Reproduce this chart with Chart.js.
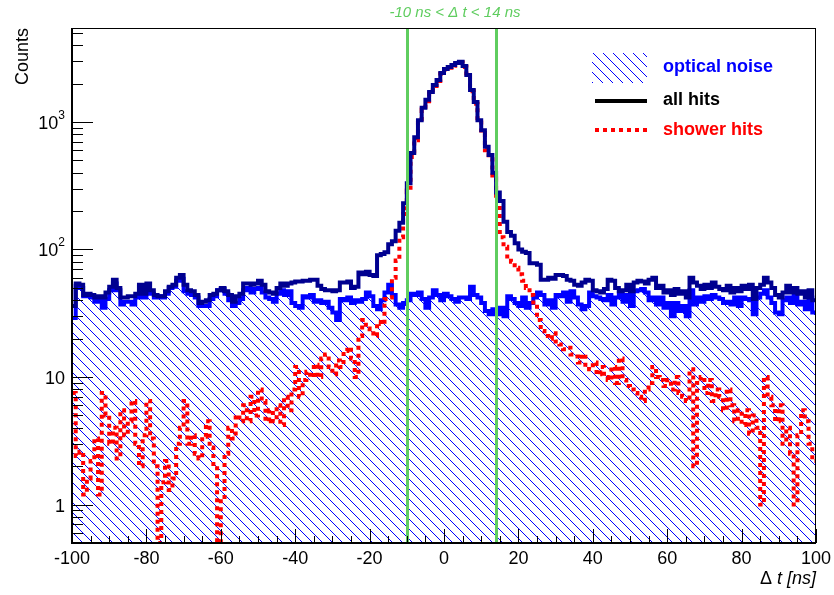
<!DOCTYPE html>
<html>
<head>
<meta charset="utf-8">
<script src="https://cdn.jsdelivr.net/npm/chart.js@4.4.1/dist/chart.umd.min.js"></script>
<style>
    html, body { margin: 0; padding: 0; background: #fff; }
</style>
</head>
<body>
<canvas id="dtChart" width="834" height="595"></canvas>
<script>
        // histogram binning: 1 ns bins from -100 to 100
        const xMin = -100;
        const xMax = 100;
        const binWidth = 1;

        // counts per bin (bin -100 .. 99)
        const noiseCounts = [
            29, 52, 50, 43, 43, 42, 39, 42, 35, 41,
            48, 54, 48, 37, 39, 39, 37, 42, 51, 42,
            48, 45, 42, 43, 42, 45, 50, 51, 57, 59,
            47, 45, 44, 42, 36, 36, 36, 41, 43, 48,
            49, 45, 40, 36, 38, 41, 48, 50, 46, 49,
            50, 46, 42, 41, 39, 45, 48, 44, 47, 38,
            36, 35, 43, 42, 44, 39, 40, 38, 39, 35,
            32, 28, 41, 40, 42, 38, 40, 39, 41, 46,
            43, 36, 34, 40, 46, 53, 44, 37, 35, 38,
            40, 45, 44, 46, 41, 35, 42, 48, 44, 40,
            45, 43, 41, 39, 42, 42, 41, 51, 44, 42,
            38, 33, 31, 34, 31, 35, 30, 43, 41, 38,
            36, 42, 35, 38, 42, 46, 44, 37, 40, 35,
            44, 43, 46, 39, 47, 42, 37, 34, 36, 46,
            43, 42, 41, 40, 44, 37, 42, 46, 39, 44,
            36, 47, 48, 49, 46, 40, 42, 37, 42, 35,
            38, 30, 38, 33, 36, 30, 48, 37, 42, 39,
            43, 41, 44, 42, 41, 38, 39, 37, 42, 36,
            42, 41, 40, 31, 42, 45, 48, 42, 38, 32,
            31, 40, 42, 38, 44, 37, 39, 34, 42, 32
        ];

        const allHits = [
            36, 54, 53, 44, 45, 44, 42, 43, 42, 46,
            51, 58, 50, 42, 42, 43, 43, 45, 53, 45,
            54, 48, 44, 43, 43, 47, 51, 53, 60, 63,
            53, 48, 47, 44, 38, 39, 40, 44, 45, 48,
            50, 47, 44, 39, 43, 45, 54, 54, 53, 54,
            57, 53, 47, 46, 45, 50, 54, 52, 54, 55,
            56, 56, 57, 57, 58, 58, 52, 49, 48, 48,
            47, 48, 55, 55, 56, 50, 51, 66, 64, 67,
            63, 62, 90, 92, 95, 110, 116, 140, 162, 230,
            330, 570, 760, 1030, 1290, 1490, 1720, 1950, 2130, 2420,
            2600, 2700, 2800, 2900, 2960, 2750, 2330, 1780, 1430, 1030,
            860, 640, 550, 400, 280, 240, 165, 137, 128, 112,
            100, 96, 94, 78, 78, 76, 58, 58, 60, 59,
            63, 63, 62, 58, 57, 53, 52, 55, 58, 57,
            48, 47, 46, 49, 58, 57, 50, 47, 48, 53,
            47, 55, 57, 56, 54, 58, 60, 50, 52, 46,
            48, 44, 49, 45, 47, 42, 60, 55, 52, 49,
            53, 50, 55, 51, 49, 48, 52, 46, 50, 47,
            52, 49, 53, 41, 50, 53, 60, 55, 50, 44,
            42, 46, 52, 46, 50, 45, 47, 42, 48, 40
        ];

        // empty bins are kept at the axis floor (0.5)
        const showerHits = [
            7.5, 2.4, 2.6, 1.2, 1.6, 2.2, 3.3, 1.2, 7.5, 5,
            3, 4, 2.3, 5.5, 3.5, 4.5, 6.5, 3, 2, 3.5,
            6.5, 3.3, 2, 0.5, 1.5, 2.2, 1.3, 1.6, 3, 4,
            6.5, 3, 3.5, 2.5, 2.3, 3.4, 4.5, 2.8, 2, 0.5,
            1.1, 2.5, 4, 3.3, 5, 4.5, 6, 4.5, 7, 5,
            8, 6.5, 4.5, 5.5, 4.5, 6, 4.2, 7, 5.5, 8,
            12, 7, 9.5, 11, 10, 12.5, 10, 14, 15, 12,
            10.5, 13.5, 12, 16, 17, 14, 10, 21, 28, 24,
            22, 21, 27, 26, 41, 42, 60, 82, 125, 190,
            290, 530, 720, 990, 1250, 1450, 1680, 1910, 2090, 2380,
            2560, 2660, 2760, 2860, 2920, 2700, 2290, 1740, 1390, 990,
            820, 600, 510, 360, 240, 125, 105, 88, 80, 72,
            64, 57, 50, 44, 37, 28, 23, 21, 20, 22,
            19, 18, 16.5, 17, 15, 14.5, 13, 15, 12, 11.5,
            13, 10.5, 12, 10, 9.5, 12, 9, 14, 9.5, 8.5,
            8, 7.5, 7, 6.5, 8, 9, 12, 10, 9.5, 8.5,
            9.5, 8, 10, 7.5, 7, 6.5, 11.5, 2, 9, 10,
            7.5, 9.5, 6.5, 8, 7, 5.5, 8, 6, 4.5, 5.5,
            4.2, 5.5, 3.6, 5, 4, 1, 10, 7, 6, 4.5,
            6, 3, 4, 2.5, 1, 3.5, 5.5, 4.5, 3, 2.2
        ];

        const xTickLabels = [-100, -80, -60, -40, -20, 0, 20, 40, 60, 80, 100];
        const yTickValues = [1, 10, 100, 1000];
        const yTickLabels = [['1', ''], ['10', ''], ['10', '2'], ['10', '3']];
        const timeWindow = [-10, 14];
        const legendLabels = ['optical noise', 'all hits', 'shower hits'];

        const FONT = '"Liberation Sans", Arial, Helvetica, sans-serif';
        const GREEN = '#5fcd5f';
        const NAVY = '#000090';

        const canvas = document.getElementById('dtChart');
        const ctx = canvas.getContext('2d');

        // ROOT style \\\ hatching
        function makeHatch(color, step) {
            const c = document.createElement('canvas');
            c.width = step;
            c.height = step;
            const g = c.getContext('2d');
            g.strokeStyle = color;
            g.lineWidth = 1;
            g.beginPath();
            g.moveTo(-1, -1); g.lineTo(step + 1, step + 1);
            g.moveTo(-1, step - 1); g.lineTo(1, step + 1);
            g.moveTo(step - 1, -1); g.lineTo(step + 1, 1);
            g.stroke();
            return ctx.createPattern(c, 'repeat');
        }
        const hatch = makeHatch('#0000ff', 10);

        // one point per bin low edge plus the closing edge
        function histPoints(counts) {
            const pts = counts.map((c, i) => ({ x: xMin + i * binWidth, y: c }));
            pts.push({ x: xMax, y: counts[counts.length - 1] });
            return pts;
        }

        const rootFrame = {
            id: 'rootFrame',
            afterDatasetsDraw(chart) {
                const { ctx, chartArea: a, scales: { x } } = chart;
                ctx.save();
                ctx.strokeStyle = GREEN;
                ctx.lineWidth = 3;
                timeWindow.forEach(t => {
                    const px = Math.round(x.getPixelForValue(t)) + 0.5;
                    ctx.beginPath();
                    ctx.moveTo(px, a.top);
                    ctx.lineTo(px, a.bottom);
                    ctx.stroke();
                });
                ctx.restore();
            },
            afterDraw(chart) {
                const { ctx, chartArea: a, scales: { x, y } } = chart;
                ctx.save();

                // frame
                ctx.strokeStyle = '#000';
                ctx.lineWidth = 1;
                ctx.strokeRect(a.left + 0.5, a.top + 0.5, a.right - a.left - 1, a.bottom - a.top);
                ctx.lineWidth = 2;
                ctx.beginPath();
                ctx.moveTo(a.left, a.top);
                ctx.lineTo(a.left, a.bottom);
                ctx.lineTo(a.right, a.bottom);
                ctx.stroke();

                // x ticks (inside)
                ctx.lineWidth = 1;
                ctx.beginPath();
                for (let t = xMin; t <= xMax; t += 5) {
                    const px = Math.round(x.getPixelForValue(t)) + 0.5;
                    const len = (t % 20 === 0) ? 14 : 7;
                    ctx.moveTo(px, a.bottom);
                    ctx.lineTo(px, a.bottom - len);
                }
                // y ticks (inside, log)
                for (let e = -1; e <= 3; e++) {
                    for (let m = 1; m <= 9; m++) {
                        const v = m * Math.pow(10, e);
                        if (v <= y.min || v >= y.max) continue;
                        const py = Math.round(y.getPixelForValue(v)) + 0.5;
                        const len = (m === 1) ? 21 : 11;
                        ctx.moveTo(a.left, py);
                        ctx.lineTo(a.left + len, py);
                    }
                }
                ctx.stroke();

                // x tick labels
                ctx.fillStyle = '#000';
                ctx.font = '18px ' + FONT;
                ctx.textAlign = 'center';
                ctx.textBaseline = 'alphabetic';
                xTickLabels.forEach(t => {
                    ctx.fillText(String(t), x.getPixelForValue(t), 564);
                });

                // y tick labels with exponent
                yTickValues.forEach((v, i) => {
                    const [base, sup] = yTickLabels[i];
                    const py = y.getPixelForValue(v);
                    ctx.font = '12px ' + FONT;
                    const ws = sup ? ctx.measureText(sup).width : 0;
                    ctx.font = '18px ' + FONT;
                    const wb = ctx.measureText(base).width;
                    const right = a.left - 7;
                    ctx.textAlign = 'left';
                    ctx.fillText(base, right - ws - wb, py + 7);
                    if (sup) {
                        ctx.font = '12px ' + FONT;
                        ctx.fillText(sup, right - ws, py - 3);
                    }
                });

                // axis titles
                ctx.font = '18px ' + FONT;
                ctx.textAlign = 'right';
                ctx.save();
                ctx.translate(28, a.top);
                ctx.rotate(-Math.PI / 2);
                ctx.fillText('Counts', 0, 0);
                ctx.restore();

                ctx.font = 'italic 18px ' + FONT;
                const tail = ' t [ns]';
                const wTail = ctx.measureText(tail).width;
                ctx.fillText(tail, a.right, 584);
                ctx.font = '18px ' + FONT;
                ctx.fillText('\u0394', a.right - wTail, 584);

                // cut title
                ctx.fillStyle = GREEN;
                ctx.font = 'italic 15px ' + FONT;
                ctx.textAlign = 'center';
                ctx.fillText('-10 ns < \u0394 t < 14 ns', 455, 17);

                // legend
                ctx.fillStyle = hatch;
                ctx.fillRect(592, 53, 55, 30);
                ctx.strokeStyle = '#000';
                ctx.lineWidth = 4;
                ctx.beginPath();
                ctx.moveTo(595, 101);
                ctx.lineTo(647, 101);
                ctx.stroke();
                ctx.strokeStyle = '#ff0000';
                ctx.setLineDash([4, 4]);
                ctx.beginPath();
                ctx.moveTo(595, 130);
                ctx.lineTo(647, 130);
                ctx.stroke();
                ctx.setLineDash([]);

                ctx.font = 'bold 18px ' + FONT;
                ctx.textAlign = 'left';
                ctx.fillStyle = '#0000ff';
                ctx.fillText(legendLabels[0], 663, 72);
                ctx.fillStyle = '#000';
                ctx.fillText(legendLabels[1], 663, 105);
                ctx.fillStyle = '#ff0000';
                ctx.fillText(legendLabels[2], 663, 135);

                ctx.restore();
            }
        };

        new Chart(ctx, {
            type: 'line',
            data: {
                datasets: [
                    {
                        label: legendLabels[0],
                        data: histPoints(noiseCounts),
                        borderColor: '#0000ff',
                        borderWidth: 4,
                        backgroundColor: hatch,
                        fill: 'start',
                        stepped: 'before',
                        pointRadius: 0,
                        order: 3
                    },
                    {
                        label: legendLabels[2],
                        data: histPoints(showerHits),
                        borderColor: '#ff0000',
                        borderWidth: 4,
                        borderDash: [4, 4],
                        fill: false,
                        stepped: 'before',
                        pointRadius: 0,
                        order: 2
                    },
                    {
                        label: legendLabels[1],
                        data: histPoints(allHits),
                        borderColor: NAVY,
                        borderWidth: 4,
                        fill: false,
                        stepped: 'before',
                        pointRadius: 0,
                        order: 1
                    }
                ]
            },
            options: {
                responsive: false,
                animation: false,
                layout: {
                    padding: { left: 72, right: 18, top: 28, bottom: 52 }
                },
                scales: {
                    x: { type: 'linear', min: xMin, max: xMax, display: false },
                    y: { type: 'logarithmic', min: 0.5, max: 5450, display: false }
                },
                plugins: {
                    legend: { display: false },
                    title: { display: false },
                    tooltip: { enabled: false }
                }
            },
            plugins: [rootFrame]
        });
</script>
</body>
</html>
